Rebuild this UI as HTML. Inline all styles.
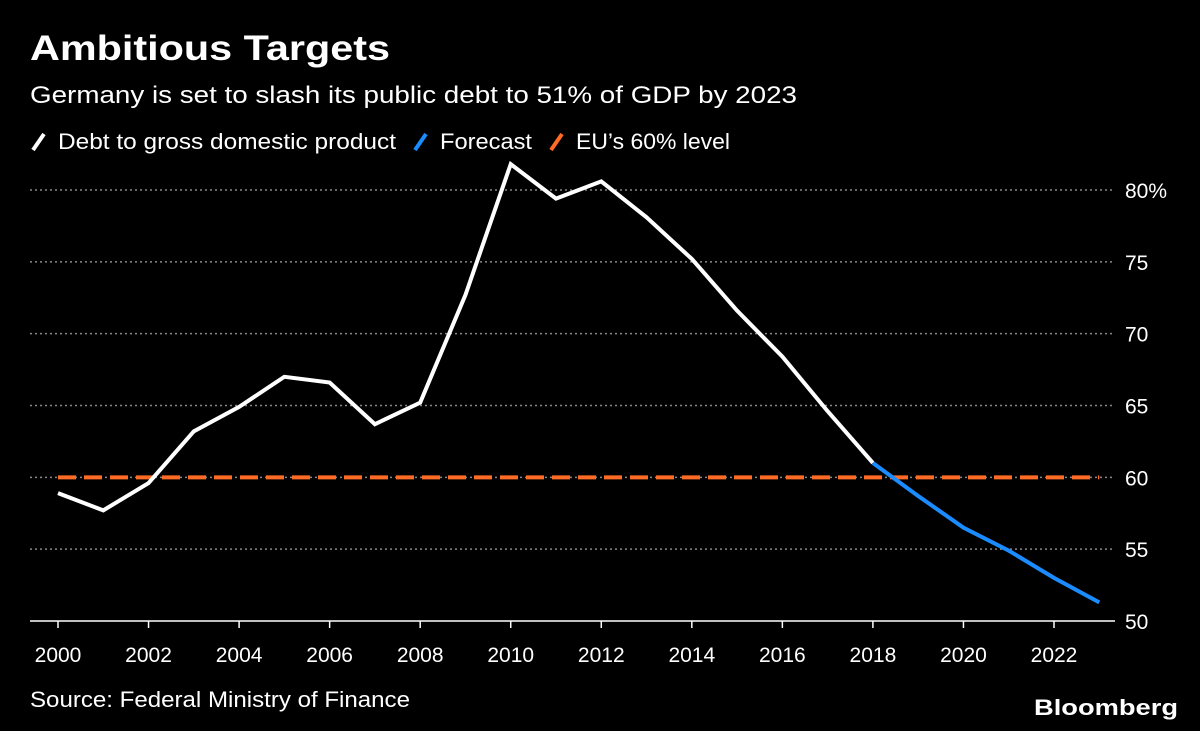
<!DOCTYPE html>
<html><head><meta charset="utf-8"><style>
body{margin:0;background:#000;}
svg{display:block;font-family:"Liberation Sans","DejaVu Sans",sans-serif;}
</style></head><body>
<svg id="chart" width="1200" height="731" viewBox="0 0 1200 731">
<rect width="1200" height="731" fill="#000"/>
<text x="30" y="60" fill="#fff" font-size="35" font-weight="bold" textLength="360" lengthAdjust="spacingAndGlyphs">Ambitious Targets</text>
<text x="30" y="103" fill="#fff" font-size="24" textLength="767" lengthAdjust="spacingAndGlyphs">Germany is set to slash its public debt to 51% of GDP by 2023</text>
<g>
<g><line x1="33" y1="150" x2="44" y2="134" stroke="#fff" stroke-width="4"/><text x="58" y="149" fill="#fff" font-size="22" textLength="338" lengthAdjust="spacingAndGlyphs">Debt to gross domestic product</text></g>
<g><line x1="415" y1="150" x2="426" y2="134" stroke="#1a8cff" stroke-width="4"/><text x="440" y="149" fill="#fff" font-size="22" textLength="92" lengthAdjust="spacingAndGlyphs">Forecast</text></g>
<g><line x1="551" y1="150" x2="562" y2="134" stroke="#ff6a24" stroke-width="4"/><text x="576" y="149" fill="#fff" font-size="22" textLength="154" lengthAdjust="spacingAndGlyphs">EU’s 60% level</text></g>
</g>
<g id="grid"></g>
<g id="yaxis"></g>
<g id="xaxis"></g>
<g id="series"></g>
<text x="30" y="707" fill="#fff" font-size="22" textLength="380" lengthAdjust="spacingAndGlyphs">Source: Federal Ministry of Finance</text>
<text x="1178" y="715" fill="#fff" font-size="22" font-weight="bold" text-anchor="end" textLength="144" lengthAdjust="spacingAndGlyphs">Bloomberg</text>
</svg>
<script>
const years=[2000,2001,2002,2003,2004,2005,2006,2007,2008,2009,2010,2011,2012,2013,2014,2015,2016,2017,2018];
const debt=[58.9,57.7,59.6,63.2,64.9,67.0,66.6,63.7,65.2,72.7,81.8,79.4,80.6,78.1,75.2,71.6,68.4,64.6,61.0];
const forecastYears=[2018,2019,2020,2021,2022,2023];
const forecast=[61.0,58.7,56.5,54.9,53.0,51.3];
const euLevel=60;
const yTicks=[50,55,60,65,70,75,80];
const yTickLabels=["50","55","60","65","70","75","80%"];
const xTicks=[2000,2002,2004,2006,2008,2010,2012,2014,2016,2018,2020,2022];
const NS="http://www.w3.org/2000/svg";
const x=v=>58+(v-2000)*(1054-58)/22;
const y=v=>621-(v-50)*(621-190)/30;
function mk(tag,attrs,parent){const e=document.createElementNS(NS,tag);for(const k in attrs)e.setAttribute(k,attrs[k]);parent.appendChild(e);return e;}
const grid=document.getElementById('grid'),ya=document.getElementById('yaxis'),xa=document.getElementById('xaxis'),se=document.getElementById('series');
yTicks.forEach((t,i)=>{
 if(t!==50){const l=mk('line',{x1:30,x2:1115,y1:y(t),y2:y(t),stroke:'#888','stroke-width':1.5,'stroke-dasharray':'2 3'},grid);
 
 }
 const tx=mk('text',{x:1125,y:y(t)+8,fill:'#fff','font-size':21},ya);tx.textContent=yTickLabels[i];
 
 
});
mk('line',{x1:30,x2:1115,y1:y(50),y2:y(50),stroke:'#fff','stroke-width':1.5},xa);
xTicks.forEach(t=>{
 mk('line',{x1:x(t),x2:x(t),y1:y(50),y2:y(50)+7,stroke:'#fff','stroke-width':1.5},xa);
 const tx=mk('text',{x:x(t),y:662,fill:'#fff','font-size':21,'text-anchor':'middle'},xa);tx.textContent=t;
 
 
});
const eu=mk('line',{x1:x(2000),x2:x(2023),y1:y(euLevel),y2:y(euLevel),stroke:'#ff6a24','stroke-width':4,'stroke-dasharray':'18 8'},se);


const d=mk('polyline',{points:years.map((yr,i)=>x(yr)+','+y(debt[i])).join(' '),fill:'none',stroke:'#fff','stroke-width':4,'stroke-linejoin':'miter'},se);


const f=mk('polyline',{points:forecastYears.map((yr,i)=>x(yr)+','+y(forecast[i])).join(' '),fill:'none',stroke:'#1a8cff','stroke-width':4},se);


</script>
</body></html>
